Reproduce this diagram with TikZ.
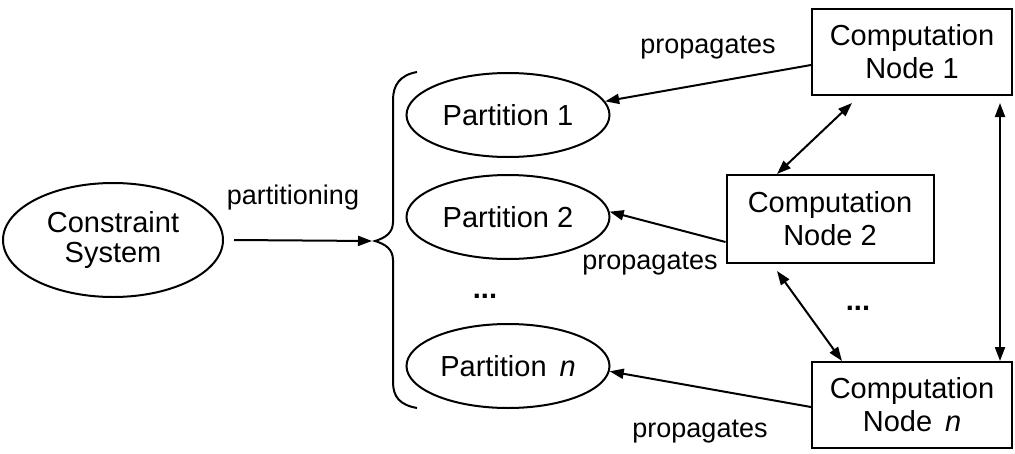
\documentclass[tikz,border=0pt]{standalone}
\usepackage{fontspec}
\setmainfont{Liberation Sans}
\usetikzlibrary{shapes.geometric,arrows.meta}
\begin{document}
\begin{tikzpicture}[x=1pt,y=-1pt,
  every node/.style={font=\fontsize{29}{33}\selectfont},
  ell/.style={draw,ellipse,line width=2pt,inner sep=0pt,align=center},
  box/.style={draw,rectangle,line width=2pt,inner sep=0pt,align=center,minimum width=200pt,minimum height=86pt},
  lbl/.style={font=\fontsize{27}{30}\selectfont,inner sep=0pt},
  arr/.style={line width=2pt,-{Triangle[length=14pt,width=10pt]}},
  dbl/.style={line width=2pt,{Triangle[length=14pt,width=10pt]}-{Triangle[length=14pt,width=10pt]}},
  dots/.style={font=\fontsize{29}{33}\selectfont\bfseries,inner sep=0pt}]
\useasboundingbox (0,0) rectangle (1015,453);
% left
\node[ell,minimum width=220pt,minimum height=114pt] (cs) at (113,240) {Constraint\\[-3pt]System};
\coordinate (tip) at (372,241);
\draw[arr] ([xshift=10pt]cs.east) -- (tip);
\node[lbl] (lpart) at (293,198) {partitioning};
% brace
\draw[line width=2pt] (417,72) .. controls (400,75) and (393,85) .. (393,100) -- (393,222)
  .. controls (393,233) and (385,238) .. (375,241)
  .. controls (385,244) and (393,249) .. (393,260) -- (393,382)
  .. controls (393,397) and (400,405) .. (417,408);
% partitions
\node[ell,minimum width=203pt,minimum height=84pt] (p1) at (508,115) {Partition 1};
\node[ell,minimum width=203pt,minimum height=84pt] (p2) at (508,217) {Partition 2};
\node[ell,minimum width=203pt,minimum height=84pt] (pn) at (508,366) {Partition \,\textit{n}};
\node[dots] (d1) at (485,296) {...};
% computation nodes
\node[box] (c1) at (912,52) {Computation\\Node 1};
\node[box,minimum width=207pt,minimum height=88pt] (c2) at (830,219) {Computation\\Node 2};
\node[box] (cn) at (912,405) {Computation\\Node \,\textit{n}};
\node[dots] (d2) at (858,308) {...};
% propagates arrows
\draw[arr] ([yshift=-13pt]c1.west) -- (p1.8);
\draw[arr] ([yshift=-23pt]c2.west) -- (p2.3);
\draw[arr] ([yshift=-2pt]cn.west) -- (pn.-3);
\node[lbl] (l1) at (708,48) {propagates};
\node[lbl] (l2) at (650,264) {propagates};
\node[lbl] (l3) at (700,432) {propagates};
% between computation nodes
\draw[dbl] ([xshift=-60pt,yshift=-7pt]c1.south) -- ([xshift=-53pt]c2.north);
\draw[dbl] ([xshift=-53pt,yshift=-7pt]c2.south) -- ([xshift=-70pt]cn.north);
\draw[dbl] ([xshift=88pt,yshift=-7pt]c1.south) -- ([xshift=88pt]cn.north);
\end{tikzpicture}
\end{document}
